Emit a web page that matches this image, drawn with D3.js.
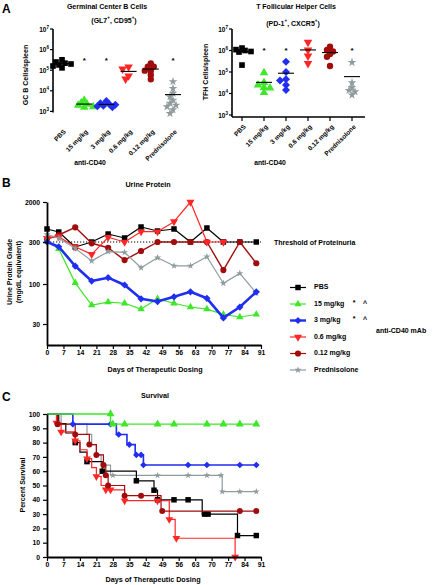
<!DOCTYPE html>
<html><head><meta charset="utf-8">
<script src="https://cdn.jsdelivr.net/npm/d3@7"></script>
<style>body{margin:0;background:#fff}svg{display:block;font-family:"Liberation Sans",Arial,sans-serif;font-weight:bold}</style>
</head><body><svg id="c" width="432" height="585"></svg>
<script>
// ---------- DATA ----------
const catsA = ["PBS","15 mg/kg","3 mg/kg","0.6 mg/kg","0.12 mg/kg","Prednisolone"];
const logTicks = [1e3,1e4,1e5,1e6,1e7];
const sigA = ["15 mg/kg","3 mg/kg","Prednisolone"];
// GC B cells / spleen
const gcPBS  = [3.2e5,2.5e5,2.0e5,1.8e5,1.6e5,2.2e5,1.3e5];
const gc15   = [3.5e3,2.6e3,2.0e3,1.7e3,1.6e3,2.2e3];
const gc3    = [3.2e3,2.5e3,2.1e3,1.8e3,1.6e3,1.9e3,2.2e3];
const gc06   = [1.45e5,1.15e5,5.3e4,3.7e4];
const gc012  = [2.1e5,1.5e5,1.5e5,9.5e4,9.5e4,5.9e4,3.6e4];
const gcPred = [2.8e4,1.3e4,7.6e3,5.2e3,3.5e3,2.5e3,2.0e3,1.7e3,1.2e3,8e2];
// TFH cells / spleen
const tfhPBS  = [1.3e6,1.1e6,1.0e6,9e5,8.5e5,2.1e5];
const tfh15   = [9.3e4,3.2e4,2.5e4,1.9e4,1.8e4,1.1e4];
const tfh3    = [3.0e5,1.0e5,4.6e4,4.0e4,2.5e4,1.45e4];
const tfh06   = [2.4e6,1.05e6,5.5e5,2.5e5];
const tfh012  = [1.5e6,1.05e6,9e5,6.8e5,5.1e5,1.9e5];
const tfhPred = [2.8e5,3.2e4,1.9e4,1.4e4,1.2e4,8.5e3];

// Urine protein (mg/dL equivalent)
const upDays  = [0,5,12,19,26,33,40,47,54,61,68,75,82,89];
const upPBS   = [556,482,263,300,438,363,611,505,556,300,583,300,300,300];
const up15    = [310,250,103,53,58,56,47,64,56,50,47,40,37,40];
const up3     = [300,265,160,108,118,97,64,59,68,79,65,36,50,79];
const up06    = [358,386,265,217,375,300,489,489,786,2000,300,300];
const up012   = [346,418,602,290,258,187,237,300,300,300,300,144,300,172];
const upPred  = [432,358,254,183,233,229,153,199,161,161,204,102,132,76];
const upTicks = [30,100,300,2000];
const threshold = 300;
const dayTicks = [0,7,14,21,28,35,42,49,56,63,70,77,84,91];
const legendB = ["PBS","15 mg/kg","3 mg/kg","0.6 mg/kg","0.12 mg/kg","Prednisolone"];

// Survival: [day, percent] change points, last day, marks
const svPBS  = [[0,100],[5,93.3],[8,86.7],[12,80],[14,73.3],[17,66.7],[23.5,60],[38,53.3],[45.5,46.7],[47,40],[66,30],[81,15]];
const svPBSend = 89;
const svPBSmk = [[12,80],[17,66.7],[23.5,60],[38,53.3],[45.5,46.7],[47,40],[54,40],[60,40],[67,30],[68.5,30],[81,15],[89,15]];
const sv15  = [[0,100],[27,92.9]];
const sv15end = 89;
const sv15mk = [[27,100],[28,92.9],[33,92.9],[47,92.9],[54,92.9],[68,92.9],[75,92.9],[82,92.9],[89,92.9]];
const sv3   = [[0,100],[11,92.9],[29.5,85.7],[34,78.6],[37.5,71.4],[41,64.3]];
const sv3end = 89;
const sv3mk = [[11,92.9],[27,92.9],[30.5,85.7],[35,78.6],[38,71.4],[40,71.4],[41,64.3],[60,64.3],[68,64.3],[82,64.3],[89,64.3]];
const sv06  = [[0,100],[4,93.8],[6,87.5],[12,81.3],[14,75],[17,68.8],[19,62.5],[21,56.3],[23,50],[25,47],[33,39.4],[52,26.3],[54.5,13.1],[80,0]];
const sv06end = 80;
const sv06mk = [[4,93.8],[6,87.5],[12,81.3],[17,68.8],[21,56.3],[25,47],[27,47],[33,39.4],[47,39.4],[52,26.3],[55,13.1],[80,0]];
const sv012 = [[0,100],[4.5,92.9],[12,85.7],[18,78.6],[21,71.4],[24,64.3],[25,57.1],[26,50],[33,42.9],[48.5,32.1]];
const sv012end = 89;
const sv012mk = [[4.5,92.9],[12,85.7],[18,78.6],[21,71.4],[24,64.3],[25,57.1],[26,50],[33,42.9],[40,42.9],[49,32.1],[82,32.1],[89,32.1]];
const svPred = [[0,100],[6,92.9],[17,85.7],[19,78.6],[21,71.4],[23,64.3],[27,57.1],[74.5,45.7]];
const svPredend = 89;
const svPredmk = [[28,57.1],[47,57.1],[60,57.1],[68,57.1],[74,57.1],[74.5,45.7],[82,45.7],[89,45.7]];
const survTicks = [0,10,20,30,40,50,60,70,80,90,100];

// ---------- STYLE ----------
const C = {pbs:"#000000", g15:"#3fe62a", g3:"#1f2ef0", g06:"#ff2626", g012:"#a10d0d", pred:"#8f9b9d"};
const svg = d3.select("#c");

function sym(g, type, x, y, color, size){
  const t = {sq:d3.symbolSquare, tri:d3.symbolTriangle, tdn:d3.symbolTriangle, dia:d3.symbolSquare, cir:d3.symbolCircle, star:d3.symbolStar}[type];
  const rot = type==="tdn" ? " rotate(180)" : type==="dia" ? " rotate(45)" : "";
  g.append("path").attr("d", d3.symbol(t, size)())
    .attr("transform", `translate(${x},${y})${rot}`).attr("fill", color);
}
function txt(x,y,s,size,anchor){
  return svg.append("text").attr("x",x).attr("y",y).attr("font-size",size).attr("fill","#000")
    .attr("text-anchor",anchor||"start").attr("dominant-baseline","middle").text(s);
}

// ---------- PANEL A ----------
function dotPanel(cfg){
  const g = svg.append("g");
  const y = d3.scaleLog().domain([1e3,1e7]).range([cfg.y0, 29]);
  const x = d3.scalePoint().domain(catsA).range(cfg.xr);
  g.append("line").attr("x1",cfg.ax).attr("x2",cfg.ax).attr("y1",29).attr("y2",cfg.showX?cfg.xAxisY:cfg.y0+1)
    .attr("stroke","#000").attr("stroke-width",1.6);
  if(cfg.showX) g.append("line").attr("x1",cfg.ax).attr("x2",cfg.xEnd).attr("y1",cfg.xAxisY).attr("y2",cfg.xAxisY)
    .attr("stroke","#000").attr("stroke-width",1.6);
  logTicks.forEach(v=>{
    g.append("line").attr("x1",cfg.ax-3).attr("x2",cfg.ax).attr("y1",y(v)).attr("y2",y(v)).attr("stroke","#000").attr("stroke-width",1.2);
    const t = g.append("text").attr("x",cfg.ax-4).attr("y",y(v)+2.5).attr("font-size",6.5).attr("text-anchor","end");
    t.append("tspan").text("10");
    t.append("tspan").attr("font-size",4.5).attr("dy",-3).text(Math.round(Math.log10(v)));
  });
  catsA.forEach(c=>{
    if(cfg.showX) g.append("line").attr("x1",x(c)).attr("x2",x(c)).attr("y1",cfg.xAxisY).attr("y2",cfg.xAxisY+4).attr("stroke","#000").attr("stroke-width",1.2);
    g.append("text").attr("transform",`translate(${x(c)+3},${cfg.labY}) rotate(-45)`)
      .attr("font-size",6.5).attr("text-anchor","end").attr("dominant-baseline","middle").text(c);
  });
  g.append("text").attr("x",cfg.antiX).attr("y",163).attr("font-size",6.8).attr("text-anchor","middle").attr("dominant-baseline","middle").text("anti-CD40");
  g.append("text").attr("transform",`translate(${cfg.ylabX},${cfg.ylabY}) rotate(-90)`).attr("font-size",7)
    .attr("text-anchor","middle").text(cfg.ylab);
  g.append("text").attr("x",cfg.t1x).attr("y",7).attr("font-size",7).attr("text-anchor","middle").attr("dominant-baseline","middle").text(cfg.t1);
  const t2 = g.append("text").attr("x",cfg.t2x).attr("y",cfg.t2y).attr("font-size",7).attr("text-anchor","middle").attr("dominant-baseline","middle");
  cfg.t2.forEach(p=>{ const s=t2.append("tspan").text(p[0]); if(p[1]) s.attr("font-size",4.5).attr("dy",-3); else s.attr("dy",p[2]||0); });
  cfg.sets.forEach((vals,i)=>{
    const cx = x(catsA[i]);
    const pts = vals.map(v=>({v, y:y(v)})).sort((a,b)=>a.y-b.y);
    const placed=[]; const offs=[0,-3,3,-6,6,-9,9];
    pts.forEach(p=>{
      for(const o of offs){ if(placed.every(q=>Math.hypot(q.x-(cx+o), q.y-p.y)>=3.8)){ p.x=cx+o; break; } }
      if(p.x===undefined) p.x=cx; placed.push(p);
    });
    pts.forEach(p=>sym(g, cfg.syms[i], p.x, p.y, cfg.cols[i], cfg.syms[i]==="star"?24:32));
    const m = d3.mean(vals);
    g.append("line").attr("x1",cx-8).attr("x2",cx+8).attr("y1",y(m)).attr("y2",y(m)).attr("stroke","#000").attr("stroke-width",1.1);
    if(sigA.includes(catsA[i])) g.append("text").attr("x",cx).attr("y",cfg.starY+3).attr("font-size",8).attr("text-anchor","middle").text("*");
  });
}
const symsA = ["sq","tri","dia","tdn","cir","star"];
const colsA = [C.pbs,C.g15,C.g3,C.g06,C.g012,C.pred];
dotPanel({ax:53, y0:111.4, xr:[62,173], showX:false, xAxisY:117, labY:131, xEnd:183, antiX:90, ylab:"GC B Cells/spleen", ylabX:28, ylabY:75,
  t1:"Germinal Center B Cells", t1x:107, t2x:114, t2y:21,
  t2:[["(GL7"],["+",1],[", CD95",0,3],["+",1],[")",0,3]], sets:[gcPBS,gc15,gc3,gc06,gc012,gcPred], syms:symsA, cols:colsA, starY:60});
dotPanel({ax:232, y0:115, xr:[242,352], showX:true, xAxisY:117, labY:126, xEnd:365, antiX:270, ylab:"TFH Cells/spleen", ylabX:208, ylabY:72,
  t1:"T Follicular Helper Cells", t1x:296, t2x:293, t2y:24,
  t2:[["(PD-1"],["+",1],[", CXCR5",0,3],["+",1],[")",0,3]], sets:[tfhPBS,tfh15,tfh3,tfh06,tfh012,tfhPred], syms:symsA, cols:colsA, starY:50});
txt(2,10,"A",12,"start");

// ---------- PANEL B ----------
const xB = d3.scaleLinear().domain([0,91]).range([47,261]);
const yB = d3.scaleLog().domain([18,30,100,300,2000]).range([345,324,284,242,202]);
const gB = svg.append("g");
gB.append("line").attr("x1",xB(0)).attr("x2",xB(91)).attr("y1",yB(threshold)).attr("y2",yB(threshold))
  .attr("stroke","#000").attr("stroke-width",1).attr("stroke-dasharray","1.2,1.8");
const seriesB = [
  {v:upPBS, c:C.pbs, s:"sq", w:1.2, sz:30},
  {v:up012, c:C.g012, s:"cir", w:1.4, sz:30},
  {v:up06, c:C.g06, s:"tdn", w:1.2, sz:28},
  {v:upPred, c:C.pred, s:"star", w:1.2, sz:16},
  {v:up15, c:C.g15, s:"tri", w:1.2, sz:24},
  {v:up3, c:C.g3, s:"dia", w:2.6, sz:26},
];
seriesB.forEach(sr=>{
  const pts = sr.v.map((v,i)=>[upDays[i], v]);
  gB.append("path").attr("d", d3.line().x(d=>xB(d[0])).y(d=>yB(d[1]))(pts))
    .attr("fill","none").attr("stroke",sr.c).attr("stroke-width",sr.w).attr("stroke-linejoin","round");
  pts.forEach(d=>sym(gB, sr.s, xB(d[0]), yB(d[1]), sr.c, sr.sz));
});
const axBy = gB.append("g").attr("transform","translate(47,0)")
  .call(d3.axisLeft(yB).tickValues(upTicks).tickFormat(d3.format("d")).tickSize(4).tickSizeOuter(0));
const axBx = gB.append("g").attr("transform","translate(0,345)")
  .call(d3.axisBottom(xB).tickValues(dayTicks).tickSize(4).tickSizeOuter(0));
[axBy,axBx].forEach(a=>{ a.select(".domain").attr("stroke-width",1.8); a.selectAll(".tick line").attr("stroke-width",1.2);
  a.selectAll("text").attr("font-size",6.8).attr("font-family",null).attr("font-weight","bold"); });
axBx.selectAll("text").attr("dy","0.45em");
txt(274,243,"Threshold of Proteinuria",7,"start");
txt(2,184,"B",12,"start");
txt(148,185,"Urine Protein",7.2,"middle");
svg.append("text").attr("transform","translate(12,272) rotate(-90)").attr("font-size",7).attr("text-anchor","middle").text("Urine Protein Grade");
svg.append("text").attr("transform","translate(21,272) rotate(-90)").attr("font-size",7).attr("text-anchor","middle").text("(mg/dL equivalent)");
txt(155,370,"Days of Therapeutic Dosing",7.2,"middle");
const legSer = [
  {c:C.pbs,s:"sq",sz:30,w:1.2},{c:C.g15,s:"tri",sz:24,w:1.2},{c:C.g3,s:"dia",sz:26,w:2.4},
  {c:C.g06,s:"tdn",sz:28,w:1.2},{c:C.g012,s:"cir",sz:30,w:1.2},{c:C.pred,s:"star",sz:16,w:1.2}];
legendB.forEach((lab,i)=>{
  const yy = 287.5 + i*16.5;
  const ls = legSer[i];
  gB.append("line").attr("x1",290).attr("x2",306).attr("y1",yy).attr("y2",yy).attr("stroke",ls.c).attr("stroke-width",ls.w);
  sym(gB, ls.s, 298, yy, ls.c, ls.sz);
  txt(314, yy, lab, 7, "start");
  if(i===1||i===2){ txt(354, yy-1, "*", 7, "middle"); txt(365, yy, "^", 7, "middle"); }
});
txt(376,331,"anti-CD40 mAb",7,"start");

// ---------- PANEL C ----------
const xC = d3.scaleLinear().domain([0,91]).range([47,261]);
const yC = d3.scaleLinear().domain([0,100]).range([557,414]);
const gC = svg.append("g");
const seriesC = [
  {st:svPred, end:svPredend, mk:svPredmk, c:C.pred, s:"star", sz:14, w:1.2},
  {st:svPBS, end:svPBSend, mk:svPBSmk, c:C.pbs, s:"sq", sz:30, w:1.2},
  {st:sv06, end:sv06end, mk:sv06mk, c:C.g06, s:"tdn", sz:26, w:1.2},
  {st:sv012, end:sv012end, mk:sv012mk, c:C.g012, s:"cir", sz:28, w:1.2},
  {st:sv3, end:sv3end, mk:sv3mk, c:C.g3, s:"dia", sz:22, w:1.6},
  {st:sv15, end:sv15end, mk:sv15mk, c:C.g15, s:"tri", sz:28, w:1.4},
];
seriesC.forEach(sr=>{
  const pts = sr.st.concat([[sr.end, sr.st[sr.st.length-1][1]]]);
  gC.append("path").attr("d", d3.line().curve(d3.curveStepAfter).x(d=>xC(d[0])).y(d=>yC(d[1]))(pts))
    .attr("fill","none").attr("stroke",sr.c).attr("stroke-width",sr.w);
  sr.mk.forEach(d=>sym(gC, sr.s, xC(d[0]), yC(d[1]), sr.c, sr.sz));
});
const axCy = gC.append("g").attr("transform","translate(47,0)")
  .call(d3.axisLeft(yC).tickValues(survTicks).tickSize(4).tickSizeOuter(0));
const axCx = gC.append("g").attr("transform","translate(0,557)")
  .call(d3.axisBottom(xC).tickValues(dayTicks).tickSize(4).tickSizeOuter(0));
[axCy,axCx].forEach(a=>{ a.select(".domain").attr("stroke-width",1.8); a.selectAll(".tick line").attr("stroke-width",1.2);
  a.selectAll("text").attr("font-size",6.8).attr("font-family",null).attr("font-weight","bold"); });
axCx.selectAll("text").attr("dy","0.45em");
txt(2,398,"C",12,"start");
txt(155,396,"Survival",7.2,"middle");
svg.append("text").attr("transform","translate(25,485) rotate(-90)").attr("font-size",7).attr("text-anchor","middle").text("Percent Survival");
txt(153,580,"Days of Therapeutic Dosing",7.2,"middle");
</script></body></html>
